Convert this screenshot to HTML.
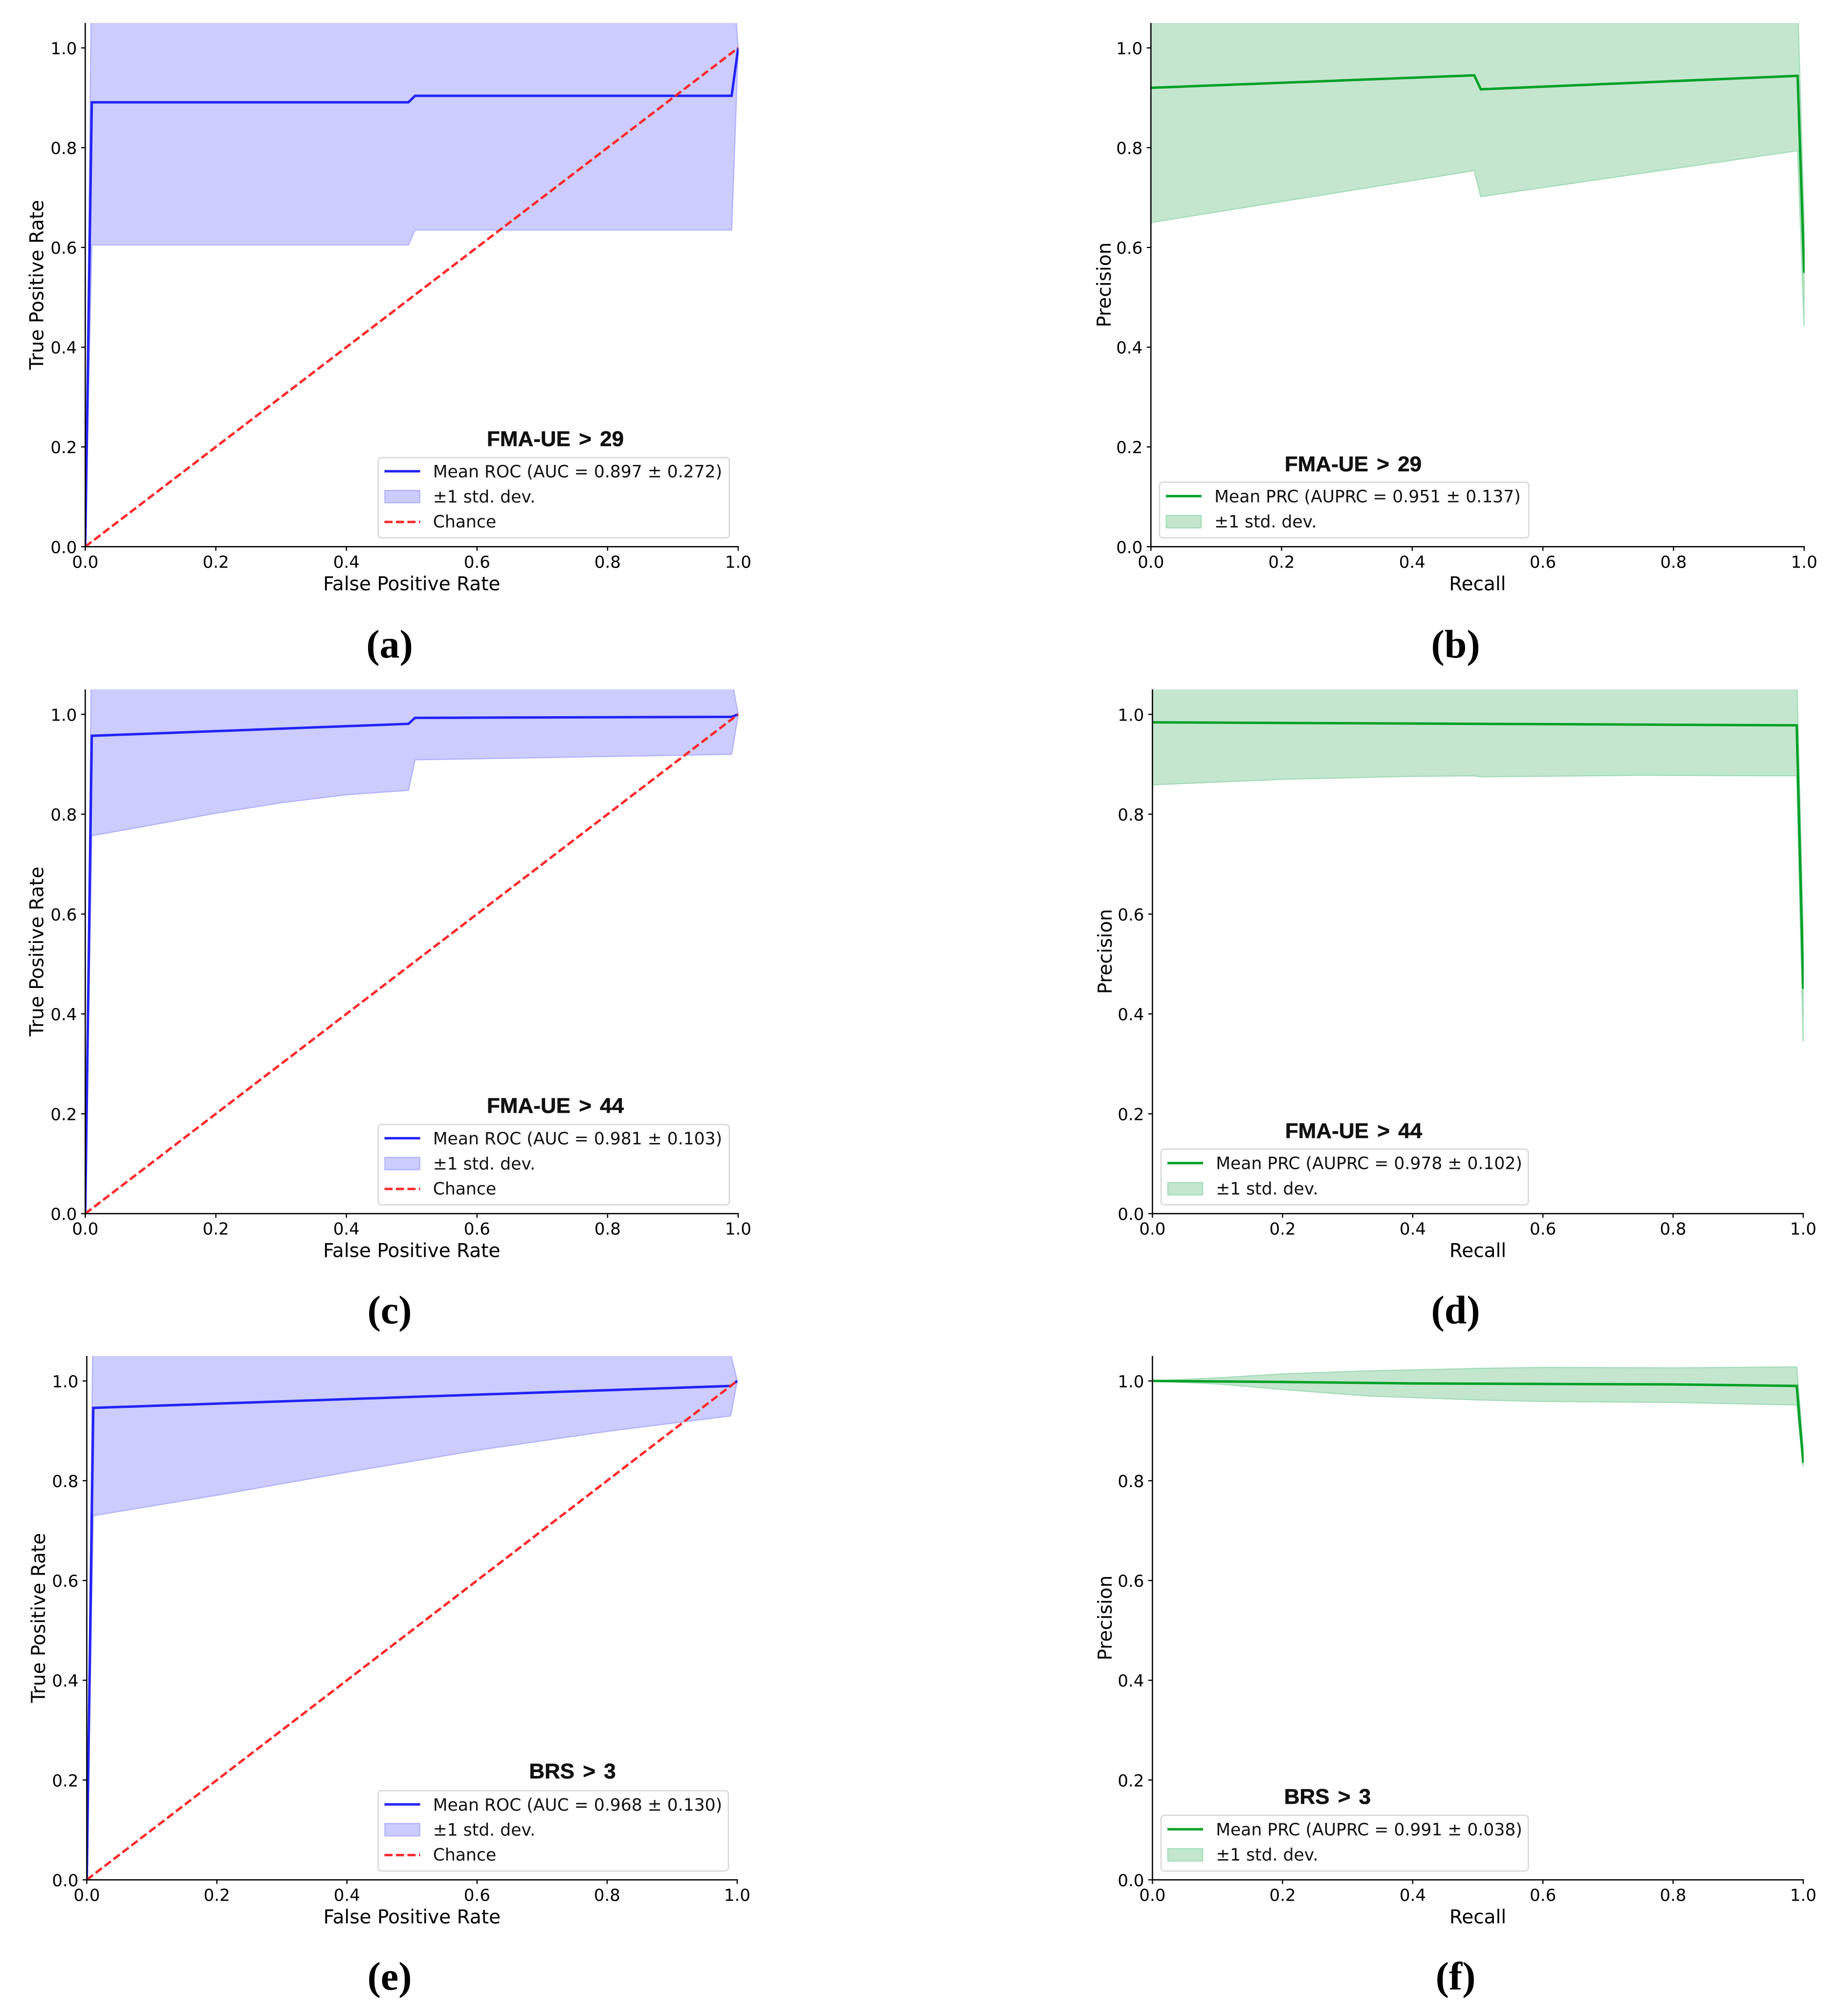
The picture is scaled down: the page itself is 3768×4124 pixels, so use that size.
<!DOCTYPE html>
<html lang="en">
<head>
<meta charset="utf-8">
<title>ROC and PRC curves</title>
<style>
html,body{margin:0;padding:0;background:#fff;}
svg{display:block;}
text{fill:#000;}
.tick,.axis,.legend{font-family:"DejaVu Sans",sans-serif;}
.tick{font-size:34px;}
.axis{font-size:39px;}
.legend{font-size:34.6px;fill:#111;}
.title{font-family:"Liberation Sans",Arial,sans-serif;font-size:44px;font-weight:bold;word-spacing:5px;fill:#111;stroke:#111;stroke-width:.6px;}
.cap{font-family:"Liberation Serif","Times New Roman",serif;font-size:82px;font-weight:bold;}
</style>
</head>
<body>
<svg id="figure" xmlns="http://www.w3.org/2000/svg" width="3768" height="4124" viewBox="0 0 3768 4124"></svg>
<script>
// ---- shared tick values ----
const tickValues = [0, 0.2, 0.4, 0.6, 0.8, 1];
const tickLabels = ['0.0', '0.2', '0.4', '0.6', '0.8', '1.0'];
const chanceX = [0, 1];
const chanceY = [0, 1];

// ---- panel (a) ROC FMA-UE > 29 ----
const aMeanX = [0, 0.01, 0.495, 0.505, 0.99, 1];
const aMeanY = [0, 0.891, 0.891, 0.904, 0.904, 1];
const aBandX = [0, 0.01, 0.495, 0.505, 0.99, 1];
const aUpper = [0, 1.175, 1.175, 1.173, 1.17, 1];
const aLower = [0, 0.605, 0.605, 0.635, 0.635, 1];

// ---- panel (b) PRC FMA-UE > 29 ----
const bMeanX = [0, 0.495, 0.505, 0.99, 1];
const bMeanY = [0.92, 0.945, 0.917, 0.944, 0.549];
const bBandX = [0, 0.495, 0.505, 0.99, 1];
const bUpper = [1.19, 1.135, 1.13, 1.09, 0.65];
const bLower = [0.65, 0.754, 0.702, 0.794, 0.442];

// ---- panel (c) ROC FMA-UE > 44 ----
const cMeanX = [0, 0.01, 0.495, 0.505, 0.99, 1];
const cMeanY = [0, 0.957, 0.981, 0.993, 0.995, 1];
const cBandX = [0, 0.01, 0.1, 0.2, 0.3, 0.4, 0.495, 0.505, 0.99, 1];
const cUpper = [0, 1.157, 1.15, 1.14, 1.13, 1.12, 1.11, 1.075, 1.07, 1];
const cLower = [0, 0.757, 0.778, 0.802, 0.823, 0.839, 0.848, 0.909, 0.92, 1];

// ---- panel (d) PRC FMA-UE > 44 ----
const dMeanX = [0, 0.5, 0.99, 1];
const dMeanY = [0.984, 0.981, 0.978, 0.45];
const dBandX = [0, 0.2, 0.4, 0.495, 0.505, 0.75, 0.99, 1];
const dUpper = [1.11, 1.1, 1.09, 1.085, 1.085, 1.082, 1.08, 0.56];
const dLower = [0.859, 0.87, 0.876, 0.877, 0.875, 0.878, 0.877, 0.345];

// ---- panel (e) ROC BRS > 3 ----
const eMeanX = [0, 0.01, 0.99, 1];
const eMeanY = [0, 0.946, 0.99, 1];
const eBandX = [0, 0.01, 0.2, 0.4, 0.6, 0.8, 0.99, 1];
const eUpper = [0, 1.16, 1.14, 1.12, 1.1, 1.08, 1.054, 1];
const eLower = [0, 0.73, 0.771, 0.817, 0.861, 0.899, 0.93, 1];

// ---- panel (f) PRC BRS > 3 ----
const fMeanX = [0, 0.2, 0.4, 0.6, 0.8, 0.99, 1];
const fMeanY = [1, 0.998, 0.995, 0.994, 0.993, 0.99, 0.836];
const fBandX = [0, 0.1, 0.2, 0.33, 0.5, 0.6, 0.8, 0.99, 1];
const fUpper = [1, 1.006, 1.014, 1.02, 1.025, 1.027, 1.026, 1.028, 0.863];
const fLower = [1, 0.994, 0.983, 0.97, 0.962, 0.959, 0.957, 0.952, 0.829];

// ---- layout (not data) ----
const rocStyle = {line:'#2222f6', fill:'#ccccff', edge:'#b3b3ff', xLabel:'False Positive Rate', yLabel:'True Positive Rate', kind:'roc'};
const prcStyle = {line:'#00a026', fill:'#c4e6cf', edge:'#a4ddb8', xLabel:'Recall', yLabel:'Precision', kind:'prc'};

const panels = [
  {id:'a', s:rocStyle, x0:174.4, x1:1510, y0:1118.3, y1:98, yLabX:88.5, title:'FMA-UE > 29', tx:1136, ty:912.5, lx:773.5, lw:718.5, capX:797, capY:1345, legend:'Mean ROC (AUC = 0.897 ± 0.272)', mx:aMeanX, my:aMeanY, bx:aBandX, up:aUpper, lo:aLower},
  {id:'b', s:prcStyle, x0:2354.3, x1:3690.6, y0:1118.3, y1:98, yLabX:2272, title:'FMA-UE > 29', tx:2768, ty:964, lx:2371.9, lw:755.4, capX:2977.6, capY:1345, legend:'Mean PRC (AUPRC = 0.951 ± 0.137)', mx:bMeanX, my:bMeanY, bx:bBandX, up:bUpper, lo:bLower},
  {id:'c', s:rocStyle, x0:174.4, x1:1510, y0:2482.7, y1:1461.3, yLabX:88.5, title:'FMA-UE > 44', tx:1136, ty:2276.5, lx:773.5, lw:718.5, capX:797, capY:2707, legend:'Mean ROC (AUC = 0.981 ± 0.103)', mx:cMeanX, my:cMeanY, bx:cBandX, up:cUpper, lo:cLower},
  {id:'d', s:prcStyle, x0:2357.4, x1:3688.7, y0:2482.7, y1:1461.3, yLabX:2274, title:'FMA-UE > 44', tx:2769, ty:2328, lx:2375, lw:751.3, capX:2977.6, capY:2707, legend:'Mean PRC (AUPRC = 0.978 ± 0.102)', mx:dMeanX, my:dMeanY, bx:dBandX, up:dUpper, lo:dLower},
  {id:'e', s:rocStyle, x0:177.5, x1:1508, y0:3845.4, y1:2824.9, yLabX:92, title:'BRS > 3', tx:1171, ty:3638, lx:773.5, lw:716.5, capX:797, capY:4070, legend:'Mean ROC (AUC = 0.968 ± 0.130)', mx:eMeanX, my:eMeanY, bx:eBandX, up:eUpper, lo:eLower},
  {id:'f', s:prcStyle, x0:2357.4, x1:3688.7, y0:3845.4, y1:2824.9, yLabX:2274, title:'BRS > 3', tx:2715.5, ty:3690, lx:2375, lw:751.3, capX:2977.6, capY:4070, legend:'Mean PRC (AUPRC = 0.991 ± 0.038)', mx:fMeanX, my:fMeanY, bx:fBandX, up:fUpper, lo:fLower}
];

const NS = 'http://www.w3.org/2000/svg';
const root = document.getElementById('figure');

function make(tag, attrs, parent, content) {
  const node = document.createElementNS(NS, tag);
  for (const k in attrs) node.setAttribute(k, attrs[k]);
  if (content !== undefined) node.textContent = content;
  parent.appendChild(node);
  return node;
}

function linePath(xs, ys, sx, sy) {
  return xs.map((v, i) => (i ? 'L' : 'M') + sx(v).toFixed(2) + ' ' + sy(ys[i]).toFixed(2)).join(' ');
}

panels.forEach(function (p) {
  const s = p.s;
  const sx = v => p.x0 + v * (p.x1 - p.x0);
  const sy = v => p.y0 - v * (p.y0 - p.y1);
  const top = sy(1.05);

  const g = make('g', {}, root);
  
  

  const defs = make('defs', {}, g);
  const clip = make('clipPath', {id: 'clip-' + p.id}, defs);
  make('rect', {x: p.x0 - 1, y: top, width: p.x1 - p.x0 + 2, height: p.y0 - top + 2}, clip);

  const plot = make('g', {'clip-path': 'url(#clip-' + p.id + ')'}, g);
  
  

  // std band
  const upPart = p.bx.map((v, i) => sx(v).toFixed(2) + ' ' + sy(p.up[i]).toFixed(2));
  const loPart = p.bx.map((v, i) => sx(v).toFixed(2) + ' ' + sy(p.lo[i]).toFixed(2)).reverse();
  const band = make('path', {d: 'M' + upPart.concat(loPart).join(' L') + ' Z', fill: s.fill, stroke: s.edge, 'stroke-width': 2.5, 'stroke-linejoin': 'miter'}, plot);
  
  

  // mean curve
  const mean = make('path', {d: linePath(p.mx, p.my, sx, sy), fill: 'none', stroke: s.line, 'stroke-width': 5, 'stroke-linejoin': 'miter'}, plot);
  
  

  // chance diagonal
  if (s.kind === 'roc') {
    const chance = make('path', {d: linePath(chanceX, chanceY, sx, sy), fill: 'none', stroke: '#ff2a2a', 'stroke-width': 5, 'stroke-dasharray': '16 7'}, plot);
    
    
  }

  // spines
  const leftSpine = make('line', {x1: p.x0, x2: p.x0, y1: top, y2: p.y0, stroke: '#000', 'stroke-width': 2.6}, g);
  
  
  const bottomSpine = make('line', {x1: p.x0 - 1.3, x2: p.x1 + 1.3, y1: p.y0, y2: p.y0, stroke: '#000', 'stroke-width': 2.6}, g);
  
  

  // ticks
  tickValues.forEach(function (v, i) {
    const xt = make('line', {x1: sx(v), x2: sx(v), y1: p.y0, y2: p.y0 + 8.5, stroke: '#000', 'stroke-width': 2.4}, g);
    
    
    const xl = make('text', {x: sx(v), y: p.y0 + 43, 'text-anchor': 'middle', class: 'tick'}, g, tickLabels[i]);
    
    
    const yt = make('line', {x1: p.x0 - 8.5, x2: p.x0, y1: sy(v), y2: sy(v), stroke: '#000', 'stroke-width': 2.4}, g);
    
    
    const yl = make('text', {x: p.x0 - 17, y: sy(v) + 13, 'text-anchor': 'end', class: 'tick'}, g, tickLabels[i]);
    
    
  });

  // axis titles
  const xTitle = make('text', {x: (p.x0 + p.x1) / 2, y: p.y0 + 89, 'text-anchor': 'middle', class: 'axis'}, g, s.xLabel);
  
  
  const yMid = (top + p.y0) / 2;
  const yTitle = make('text', {x: p.yLabX, y: yMid, 'text-anchor': 'middle', class: 'axis', transform: 'rotate(-90 ' + p.yLabX + ' ' + yMid + ')'}, g, s.yLabel);
  
  

  // legend
  const rows = s.kind === 'roc' ? 3 : 2;
  const legendTop = rows === 3 ? p.y0 - 182.3 : p.y0 - 132;
  const lg = make('g', {}, g);
  
  
  const box = make('rect', {x: p.lx, y: legendTop, width: p.lw, height: p.y0 - 18 - legendTop, rx: 7, ry: 7, fill: '#fff', 'fill-opacity': 0.85, stroke: '#d6d6d6', 'stroke-width': 2.5}, lg);
  
  

  const hx0 = p.lx + 13;
  const hx1 = p.lx + 86;
  const tx = p.lx + 112.2;
  const lineDy = rows === 3 ? -154.3 : -103.4;
  const meanText = rows === 3 ? -141.6 : -91;
  const patchTop = rows === 3 ? -115 : -63.5;
  const patchText = rows === 3 ? -90.3 : -39.3;

  const h1 = make('line', {x1: hx0, x2: hx1, y1: p.y0 + lineDy, y2: p.y0 + lineDy, stroke: s.line, 'stroke-width': 5}, lg);
  
  
  const t1 = make('text', {x: tx, y: p.y0 + meanText, class: 'legend'}, lg, p.legend);
  
  
  const h2 = make('rect', {x: hx0 + 1, y: p.y0 + patchTop, width: 71, height: 25, fill: s.fill, stroke: s.edge, 'stroke-width': 2.5}, lg);
  
  
  const t2 = make('text', {x: tx, y: p.y0 + patchText, class: 'legend'}, lg, '±1 std. dev.');
  
  
  if (rows === 3) {
    const h3 = make('line', {x1: hx0, x2: hx1, y1: p.y0 - 50.6, y2: p.y0 - 50.6, stroke: '#ff2a2a', 'stroke-width': 5, 'stroke-dasharray': '16.5 7'}, lg);
    
    
    const t3 = make('text', {x: tx, y: p.y0 - 39.3, class: 'legend'}, lg, 'Chance');
    
    
  }

  // panel title and caption
  const title = make('text', {x: p.tx, y: p.ty, 'text-anchor': 'middle', class: 'title'}, g, p.title);
  
  
  const cap = make('text', {x: p.capX, y: p.capY, 'text-anchor': 'middle', class: 'cap'}, g, '(' + p.id + ')');
  
  
});
</script>
</body>
</html>
